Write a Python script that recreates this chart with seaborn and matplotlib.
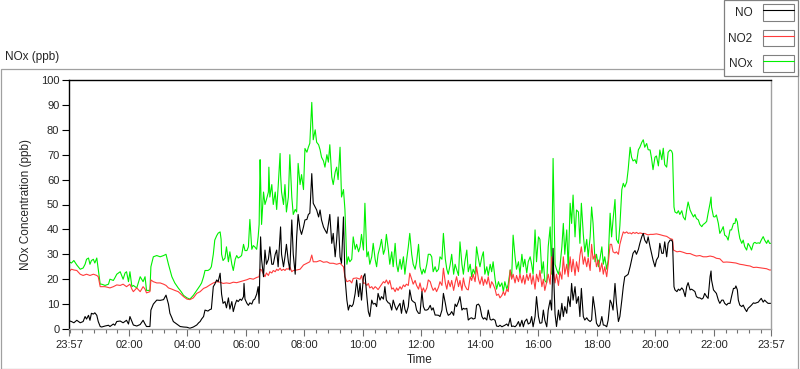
import pandas as pd
import matplotlib
matplotlib.use('Agg')
import matplotlib.pyplot as plt
import matplotlib.dates as mdates
from matplotlib.patches import Rectangle
from matplotlib.lines import Line2D
from matplotlib.legend_handler import HandlerTuple
import seaborn as sns

# readings: (minutes after 23:57, ppb)
nox_pts = [
    (0, 27), (5, 26.5), (10, 27.5), (16, 25.7), (23, 24), (29, 24.5), (33, 26), (36, 28), (40, 28.5),
    (43, 26), (46, 27.5), (50, 28), (53, 26.5), (57, 28.5), (60, 24), (64, 18), (67, 18), (74, 17.5),
    (81, 18), (84, 20), (91, 19.5), (94, 20.5), (98, 22), (105, 23), (111, 20), (115, 22.5), (118, 23),
    (122, 19), (125, 23), (129, 17), (132, 17.5), (139, 16.5), (146, 21), (152, 19), (156, 21), (159, 15.5),
    (166, 15.5), (168, 25), (173, 29), (180, 29.5), (187, 29), (194, 29.5), (199, 30), (204, 26),
    (211, 21), (217, 18.5), (224, 16.5), (230, 15), (235, 13.5), (242, 12.5), (248, 12), (255, 13.5),
    (262, 15.5), (269, 17.5), (272, 18.5), (276, 21), (279, 23.5), (285, 23.5), (289, 24), (292, 25),
    (296, 30), (299, 35.7), (303, 37.5), (306, 38.5), (310, 39), (312, 36), (313, 30), (316, 27.5),
    (320, 28.5), (323, 33), (327, 27), (330, 31), (334, 26), (337, 23.5), (341, 28), (344, 29.5),
    (347, 28.5), (351, 29), (354, 29.5), (358, 34), (361, 31.5), (365, 31.5), (368, 33), (371, 44),
    (375, 32), (378, 33.5), (381, 33), (385, 32), (388, 37), (390, 42), (392, 68), (393, 60), (395, 42),
    (399, 55), (402, 50), (405, 52), (409, 55), (410, 65), (412, 53), (416, 58), (419, 50), (423, 55),
    (426, 48), (429, 57), (433, 70.5), (434, 62), (436, 55), (440, 50), (443, 58), (446, 47), (450, 53),
    (453, 70), (457, 53), (460, 46), (464, 48), (467, 47), (470, 66.5), (474, 58), (477, 62), (481, 56),
    (484, 72.5), (488, 71), (491, 73), (494, 74.6), (498, 91), (501, 76), (505, 80), (508, 75), (512, 74),
    (515, 72), (518, 69), (522, 67.5), (525, 65), (529, 70), (532, 67), (535, 74), (539, 61), (542, 58),
    (546, 63), (549, 65), (552, 60), (556, 73), (559, 53), (563, 56), (566, 48), (570, 26), (573, 29),
    (576, 27), (580, 28), (583, 37), (587, 32), (590, 34), (594, 31), (597, 33), (600, 38), (604, 31.7),
    (607, 50.5), (611, 29), (614, 31), (617, 26), (621, 29), (624, 34.4), (628, 28), (631, 25), (634, 30),
    (638, 33), (641, 36), (645, 30), (648, 32), (651, 38), (655, 32), (658, 26), (662, 31), (665, 25),
    (669, 34.4), (672, 26), (675, 23), (679, 28), (682, 24), (686, 29), (689, 22), (692, 27), (696, 33),
    (699, 38.4), (703, 30), (706, 26), (710, 24), (713, 27), (717, 34), (720, 25), (724, 22), (727, 24),
    (730, 22.5), (734, 26), (737, 30), (741, 30), (744, 29), (747, 23), (751, 25), (754, 23), (758, 24),
    (761, 29), (765, 28), (768, 38.4), (772, 28), (775, 24), (778, 22), (782, 26), (785, 30), (789, 22),
    (792, 26), (795, 24), (799, 21.5), (802, 35), (806, 26), (809, 22), (812, 27), (816, 31.7), (819, 23),
    (823, 26), (826, 21), (829, 24), (833, 22), (836, 33), (840, 28), (843, 25), (847, 29), (850, 31),
    (853, 22), (857, 25), (860, 21.5), (864, 26), (867, 23), (870, 27), (874, 20), (877, 16), (881, 19),
    (884, 17), (888, 18.5), (891, 15), (894, 19), (898, 16), (901, 18), (905, 23.7), (908, 20.5),
    (911, 37.7), (915, 29), (918, 24), (922, 27), (925, 22), (929, 30), (932, 25), (935, 28), (939, 22.5),
    (942, 27), (946, 29), (949, 26), (952, 22), (956, 39.8), (959, 27), (963, 37), (966, 36), (970, 22.4),
    (973, 27), (976, 19.5), (980, 18.5), (983, 33), (987, 41), (990, 22), (993, 68.5), (997, 26),
    (1000, 24), (1004, 22), (1007, 25), (1011, 33), (1014, 42.4), (1017, 30), (1021, 39.8), (1024, 23.7),
    (1028, 50.5), (1031, 42.4), (1034, 53.8), (1038, 37), (1041, 47.8), (1045, 47), (1048, 34.4),
    (1051, 50.5), (1055, 38), (1058, 31), (1062, 36), (1065, 29), (1069, 37), (1072, 49), (1075, 42.4),
    (1079, 27), (1082, 30), (1086, 25), (1089, 28), (1093, 33), (1096, 26), (1099, 29), (1103, 24),
    (1106, 27.7), (1110, 46.5), (1113, 37), (1116, 43.8), (1120, 52), (1123, 36), (1127, 34.4),
    (1130, 41.5), (1134, 56), (1137, 58.5), (1140, 57), (1144, 59), (1147, 64), (1151, 73), (1154, 69),
    (1157, 67.5), (1161, 68), (1164, 66.5), (1168, 72), (1171, 73), (1175, 75), (1178, 76), (1181, 73),
    (1185, 74.5), (1188, 72), (1192, 71.9), (1195, 68.5), (1198, 64), (1202, 69), (1205, 69.5),
    (1209, 65.5), (1212, 71.9), (1216, 68), (1219, 72.6), (1222, 66), (1226, 65), (1229, 71), (1233, 71.9),
    (1236, 71.5), (1238, 70.5), (1240, 55.8), (1241, 49), (1243, 47), (1247, 46.5), (1250, 47.5),
    (1253, 46), (1257, 47.5), (1260, 45), (1264, 43.8), (1267, 47.8), (1270, 51), (1274, 47.8),
    (1277, 46.5), (1281, 45), (1284, 46), (1287, 44.4), (1291, 43.8), (1294, 42), (1298, 41.1),
    (1301, 42), (1304, 42.4), (1308, 43.2), (1311, 46.5), (1315, 50.5), (1317, 53), (1318, 49),
    (1322, 45.1), (1325, 45), (1328, 45.8), (1332, 42.4), (1335, 38.4), (1339, 39.8), (1342, 41.1),
    (1345, 37.7), (1349, 37.1), (1352, 35.7), (1356, 39.8), (1359, 39.8), (1363, 42.4), (1366, 42.4),
    (1368, 44.4), (1371, 43), (1373, 39.8), (1376, 36.4), (1380, 34.4), (1383, 35.7), (1386, 33.1),
    (1390, 31.7), (1393, 34.4), (1397, 33.1), (1400, 31.7), (1404, 34.4), (1407, 34.8), (1410, 34.4),
    (1414, 34.6), (1417, 34.4), (1420, 35.7), (1424, 37.1), (1427, 35.7), (1431, 34.4), (1434, 35.7),
    (1437, 34.4), (1440, 34.4),
]

no2_pts = [
    (0, 23), (5, 24), (10, 23.7), (16, 23.5), (23, 22), (29, 21.5), (36, 22), (43, 21.5), (50, 22),
    (57, 21.5), (60, 21), (64, 17), (74, 17), (84, 16.5), (91, 17), (98, 17.7), (105, 17.5), (111, 18),
    (118, 17), (125, 18), (129, 16), (132, 15), (139, 16.5), (146, 15), (152, 17), (156, 16), (159, 14.5),
    (166, 15), (168, 19.7), (173, 19), (180, 18.5), (187, 18.5), (194, 18), (199, 17.5), (204, 16.5),
    (211, 16), (217, 15.5), (224, 15), (228, 14.3), (235, 13), (242, 12), (248, 11.8), (255, 12.5),
    (262, 14.3), (269, 15), (276, 16.3), (282, 16.8), (289, 17.7), (296, 18.5), (303, 19), (310, 18.8),
    (316, 18.3), (323, 18.5), (330, 18.3), (337, 18.8), (344, 18.6), (351, 19), (358, 19.4), (365, 19.8),
    (371, 20.3), (378, 20), (385, 20.7), (390, 21), (392, 24), (395, 23.7), (399, 22), (402, 21),
    (405, 22.5), (409, 21.5), (412, 23), (416, 22.5), (419, 23.5), (423, 23), (426, 24), (429, 23.5),
    (433, 24.4), (436, 23.5), (440, 24), (443, 23.5), (446, 24.2), (450, 24), (453, 25), (457, 23),
    (460, 23.5), (467, 23.7), (474, 24), (481, 25.7), (488, 26.4), (494, 27), (498, 29.7), (501, 27),
    (508, 27), (515, 27.5), (522, 26.8), (529, 27), (535, 26.4), (542, 26.4), (549, 26), (556, 26.4),
    (563, 25), (566, 21), (570, 19), (576, 19.5), (580, 18.5), (583, 20.3), (590, 20.5), (597, 20),
    (600, 21.5), (604, 18.3), (607, 18.5), (611, 17.5), (614, 18.3), (617, 16.5), (621, 17), (624, 16),
    (628, 17), (631, 16.5), (634, 15.8), (638, 17), (645, 19), (648, 18.5), (651, 19.7), (655, 18),
    (658, 19.5), (662, 16), (665, 16.5), (669, 15), (672, 16.5), (675, 15.5), (679, 17), (682, 16),
    (686, 17.7), (689, 17), (692, 18), (696, 17.5), (699, 22.4), (703, 20), (706, 18), (710, 19.5),
    (713, 17.5), (717, 16), (720, 18.5), (724, 15), (727, 16.5), (730, 14.8), (734, 16.5), (737, 19.7),
    (741, 19), (744, 17), (747, 15.5), (751, 16.5), (754, 15), (758, 16.8), (761, 19), (765, 17.5),
    (768, 24.4), (772, 18.5), (775, 16), (778, 19.5), (782, 17), (785, 19.5), (789, 15.5), (792, 18.5),
    (795, 21), (799, 17), (802, 19.5), (806, 15.5), (809, 20.5), (812, 17.5), (816, 16), (819, 15.7),
    (823, 21), (826, 19.5), (829, 22), (833, 19), (836, 25), (840, 20), (843, 18), (847, 21), (850, 17.5),
    (853, 20), (857, 18), (860, 21), (864, 16.5), (867, 19), (870, 18), (874, 16), (877, 13.5), (881, 14),
    (884, 12.5), (888, 13.5), (891, 15), (894, 13.5), (898, 16), (901, 15), (905, 23.7), (908, 20),
    (911, 22), (915, 18.5), (918, 21.5), (922, 19), (925, 22), (929, 18.5), (932, 21.5), (935, 18),
    (939, 22), (942, 19.5), (946, 22.4), (949, 18), (952, 21.5), (956, 16), (959, 22), (963, 19),
    (966, 23.5), (970, 17), (973, 20), (976, 15.5), (980, 19), (983, 22), (987, 18), (990, 29), (993, 25),
    (997, 18.5), (1000, 22), (1004, 17.5), (1007, 23), (1011, 20), (1014, 29), (1017, 22), (1021, 26),
    (1024, 21), (1028, 29), (1031, 23), (1034, 28), (1038, 21.5), (1041, 27), (1045, 23), (1048, 29.5),
    (1051, 33), (1055, 26), (1058, 29), (1062, 25), (1065, 28.5), (1069, 23.5), (1072, 34), (1075, 28),
    (1079, 30), (1082, 25), (1086, 27.7), (1089, 23), (1093, 26.5), (1096, 22), (1099, 25), (1103, 21),
    (1106, 26), (1110, 34), (1113, 34), (1116, 31), (1120, 30.5), (1123, 31), (1127, 30), (1130, 34),
    (1134, 37), (1137, 39), (1140, 38.5), (1144, 39), (1147, 38.4), (1151, 38.6), (1154, 38.2),
    (1157, 38.8), (1161, 38.4), (1164, 38.8), (1168, 38.3), (1171, 38.6), (1175, 38.4), (1178, 38.2),
    (1181, 38.4), (1185, 38), (1188, 37.8), (1192, 38), (1198, 38), (1205, 38.2), (1212, 37.9),
    (1219, 37.5), (1226, 37.2), (1233, 36.3), (1238, 36), (1240, 31.7), (1247, 31), (1253, 31.2),
    (1260, 30.8), (1267, 30.3), (1274, 30.3), (1281, 29.7), (1287, 29.3), (1294, 29.5), (1301, 29),
    (1308, 29), (1315, 29.3), (1322, 29), (1328, 28.4), (1335, 28.2), (1342, 26.8), (1349, 26.9),
    (1356, 26.8), (1363, 26.6), (1368, 26.5), (1376, 26), (1383, 25.8), (1390, 25.5), (1397, 25.3),
    (1404, 24.7), (1410, 24.8), (1417, 24.6), (1424, 24.4), (1431, 24.2), (1437, 23.7), (1440, 23.7),
]

no_pts = [
    (0, 3.3), (5, 3), (10, 2.5), (16, 3.5), (23, 2.5), (29, 3), (33, 5), (36, 4), (40, 5.5), (43, 3.5),
    (46, 6.3), (50, 6), (53, 6.5), (57, 5.5), (60, 3), (64, 1), (67, 0.8), (74, 1.2), (81, 1.5), (84, 1),
    (91, 2), (94, 1.5), (98, 3), (105, 3.2), (111, 2.5), (118, 3.5), (122, 2), (125, 5), (129, 3),
    (132, 1.6), (139, 1.2), (146, 1.8), (152, 3.5), (156, 2), (159, 1), (166, 1), (168, 7.6), (173, 10),
    (180, 11.6), (187, 11.5), (194, 11.8), (199, 13.6), (204, 10), (207, 6.3), (211, 4.5), (214, 3),
    (221, 2), (228, 1), (235, 0.8), (242, 0.7), (248, 0.3), (255, 0.8), (262, 1.6), (266, 2.5), (269, 3),
    (272, 4), (276, 5), (279, 7.6), (285, 7.2), (289, 7.8), (292, 8), (296, 17), (299, 18), (303, 19.7),
    (306, 19), (310, 22.4), (313, 14), (316, 10.3), (320, 11), (323, 8.5), (327, 12.5), (330, 8),
    (334, 11), (337, 7), (341, 10), (344, 11.6), (347, 11), (351, 12), (354, 11.5), (358, 13), (359, 18.3),
    (361, 12), (365, 10.3), (368, 9.5), (371, 10.5), (375, 10), (378, 11.6), (381, 12), (385, 14),
    (388, 17), (390, 10.3), (393, 37), (395, 28), (399, 21), (402, 31.7), (405, 26), (409, 28), (412, 33),
    (416, 26), (419, 26), (423, 30), (426, 31.7), (429, 25), (434, 41), (436, 30), (440, 25), (443, 29),
    (446, 34), (450, 27), (453, 23.7), (457, 43.8), (460, 30), (464, 22), (467, 37), (470, 46), (474, 40),
    (477, 38), (481, 41), (484, 43.8), (488, 44), (491, 46), (494, 46.5), (498, 62.4), (501, 50.5),
    (505, 49), (508, 47.8), (512, 45), (515, 47.8), (518, 43.8), (522, 41), (525, 39.8), (529, 38.4),
    (532, 42), (535, 46), (539, 34.4), (542, 38.4), (546, 29), (549, 35.7), (552, 45), (556, 29),
    (559, 26.4), (563, 45), (566, 21), (570, 11.6), (573, 7.6), (576, 9.6), (580, 9), (583, 10),
    (587, 14.3), (590, 19.7), (594, 13), (597, 18.3), (600, 11.6), (604, 21), (607, 22.2), (611, 13),
    (614, 7), (617, 5), (621, 11.6), (624, 10), (628, 10.3), (631, 9), (634, 14.3), (638, 11.6), (641, 13),
    (645, 12), (648, 17), (651, 11.6), (655, 10.5), (658, 10.3), (662, 7.6), (665, 11.6), (669, 9),
    (672, 7.6), (675, 9), (679, 10.3), (682, 6.3), (686, 11.6), (689, 8), (692, 6.3), (696, 9),
    (699, 15.7), (703, 11.6), (706, 11), (710, 10.5), (713, 7.6), (717, 6.3), (720, 6.3), (724, 15),
    (727, 9), (730, 7.6), (734, 7.6), (737, 8), (741, 9.5), (744, 7.6), (747, 8.5), (751, 5.6), (754, 5.6),
    (758, 5.5), (761, 5), (765, 7.6), (768, 14.3), (772, 10.3), (775, 7), (778, 5.5), (782, 6), (785, 7),
    (789, 5.5), (792, 10), (795, 9), (799, 11), (802, 13), (806, 7.6), (809, 8.3), (812, 8), (816, 8.3),
    (819, 3.6), (823, 4.3), (826, 4.5), (829, 4), (833, 4.3), (836, 9.6), (840, 10), (843, 9), (847, 5),
    (850, 4), (853, 4.5), (857, 3.6), (860, 7.6), (864, 3.8), (867, 3.6), (870, 4), (874, 3.5), (877, 1.2),
    (881, 1), (884, 1.5), (888, 0.9), (891, 1.2), (894, 1.5), (898, 2), (901, 1.2), (905, 4.3), (908, 1),
    (911, 1.2), (915, 0.9), (918, 1.5), (922, 3), (925, 1), (929, 3.5), (932, 0.9), (935, 3), (939, 4),
    (942, 2), (946, 2.5), (949, 5), (952, 0.9), (956, 5), (959, 13), (963, 5), (966, 2.3), (970, 2.5),
    (973, 7.6), (976, 3.6), (980, 0.9), (983, 7.6), (987, 11.6), (990, 7.6), (992, 22.4), (993, 32.4),
    (995, 17), (997, 6), (1000, 1), (1004, 7.6), (1007, 3.6), (1011, 10.3), (1014, 5), (1017, 9),
    (1021, 6.3), (1024, 13), (1028, 9), (1031, 18.3), (1034, 11.6), (1038, 17), (1041, 10.3), (1045, 13),
    (1048, 5), (1051, 16.3), (1055, 5), (1058, 3.6), (1062, 4.5), (1065, 3.6), (1069, 3), (1072, 3.6),
    (1075, 13), (1079, 7.6), (1082, 2.3), (1086, 1), (1089, 1.5), (1093, 5), (1096, 1.6), (1099, 1.5),
    (1103, 0.9), (1106, 3.6), (1110, 11.6), (1113, 10.3), (1116, 7.6), (1120, 18.3), (1123, 10.3),
    (1127, 3), (1130, 5), (1134, 11.6), (1137, 17), (1140, 21), (1144, 21.5), (1147, 22), (1151, 25),
    (1154, 27.7), (1157, 30.4), (1161, 31.5), (1164, 30), (1168, 32), (1171, 34.4), (1175, 37.1),
    (1178, 38.4), (1181, 35.7), (1185, 34.4), (1188, 37), (1192, 33), (1195, 30.4), (1198, 27.7),
    (1202, 25), (1205, 27.7), (1209, 29), (1212, 34.4), (1216, 30.4), (1219, 30.4), (1222, 35), (1226, 29),
    (1229, 34.4), (1233, 35.7), (1236, 35.7), (1238, 35), (1240, 23.7), (1241, 17), (1243, 15.7),
    (1247, 15), (1250, 16), (1253, 15.5), (1257, 16.5), (1260, 15.7), (1264, 13), (1267, 17), (1270, 18.6),
    (1274, 15.7), (1277, 16), (1281, 15.5), (1284, 15), (1287, 13), (1291, 12.5), (1294, 12.5), (1298, 12),
    (1301, 12.5), (1304, 14.3), (1308, 13), (1311, 12.3), (1315, 21), (1317, 23.3), (1318, 19.7),
    (1322, 15.7), (1325, 15), (1328, 14.3), (1332, 11.6), (1335, 10.3), (1339, 11.6), (1342, 11.6),
    (1345, 10.3), (1349, 9.6), (1352, 10.3), (1356, 10.3), (1359, 13), (1363, 16.3), (1366, 16.3),
    (1368, 17.3), (1371, 15.7), (1373, 11.6), (1376, 9.6), (1380, 9), (1383, 9.6), (1386, 8.3), (1390, 7),
    (1393, 8.3), (1397, 9), (1400, 9.6), (1404, 10.5), (1407, 10.3), (1410, 10.5), (1414, 10.8),
    (1417, 11.6), (1420, 12.3), (1424, 10.8), (1427, 11.6), (1431, 10.8), (1434, 10.3), (1437, 10.3),
    (1440, 10.3),
]

start = pd.Timestamp('2015-03-10 23:57')
gases = ['NO', 'NO2', 'NOx']
colors = {'NO': 'black', 'NO2': '#ff3b3b', 'NOx': '#00f000'}
hour_ticks = ['02:00', '04:00', '06:00', '08:00', '10:00', '12:00', '14:00', '16:00', '18:00',
              '20:00', '22:00']

frames = []
for gas, pts in [('NOx', nox_pts), ('NO2', no2_pts), ('NO', no_pts)]:
    mins, vals = zip(*pts)
    frames.append(pd.DataFrame({'time': start + pd.to_timedelta(list(mins), unit='min'),
                                'ppb': vals, 'gas': gas}))
df = pd.concat(frames, ignore_index=True)

sns.set_style('white')
plt.rcParams['font.family'] = ['Liberation Sans', 'DejaVu Sans']

fig = plt.figure(figsize=(8, 3.69), dpi=100)
ax = fig.add_axes([69 / 800, 1 - 329 / 369, 702 / 800, 249 / 369])

sns.lineplot(data=df, x='time', y='ppb', hue='gas', hue_order=['NOx', 'NO2', 'NO'],
             palette=colors, estimator=None, linewidth=0.8, legend=False, ax=ax)

end = start + pd.Timedelta(days=1)
next_day = (start + pd.Timedelta(days=1)).strftime('%Y-%m-%d')
major = [start] + [pd.Timestamp(next_day[:8] + '11 ' + h) for h in hour_ticks] + [end]
minor = pd.date_range('2015-03-11 00:00', '2015-03-11 23:50', freq='24min')
ax.set_xlim(start, end)
ax.set_xticks(mdates.date2num(major))
ax.set_xticks(mdates.date2num(minor), minor=True)
ax.xaxis.set_major_formatter(mdates.DateFormatter('%H:%M'))
ax.set_ylim(0, 100)
ax.set_yticks(range(0, 101, 10))

ax.tick_params(axis='x', which='major', direction='out', length=5, width=0.8, color='#707070',
               pad=3, labelsize=8, bottom=True)
ax.tick_params(axis='x', which='minor', direction='out', length=3, width=0.8, color='#707070',
               bottom=True)
ax.tick_params(axis='y', direction='out', length=5, width=0.8, color='black', pad=2,
               labelsize=8, left=True)

for side in ['top', 'left']:
    ax.spines[side].set_color('black')
    ax.spines[side].set_linewidth(1.0)
for side in ['bottom', 'right']:
    ax.spines[side].set_color('#a0a0a0')
    ax.spines[side].set_linewidth(1.0)

ax.set_xlabel('Time', fontsize=8.5, labelpad=3)
ax.set_ylabel('NOx Concentration (ppb)', fontsize=8.5, labelpad=6)

fig.text(5 / 800, 1 - 57 / 369, 'NOx (ppb)', fontsize=8.5, va='center', ha='left')

# outer panel frame
fig.patches.append(Rectangle((0.5 / 800, 0.5 / 369), 797 / 800, 1 - 69.5 / 369,
                             transform=fig.transFigure, fill=False, edgecolor='#a0a0a0',
                             linewidth=0.9, zorder=0))

handles = []
for gas in gases:
    box = Rectangle((0, 0), 1, 1, facecolor='white', edgecolor='#808080', linewidth=0.8)
    line = Line2D([], [], color=colors[gas], linewidth=0.8)
    handles.append((box, line))
leg = fig.legend(handles, gases, handler_map={tuple: HandlerTuple(ndivide=1)},
                 loc='upper right', bbox_to_anchor=(798 / 800, 1.0), markerfirst=False,
                 fontsize=8.5, frameon=True, fancybox=False, framealpha=1, edgecolor='#808080',
                 handlelength=2.6, handleheight=1.8, labelspacing=0.75, handletextpad=0.9,
                 borderpad=0.35, borderaxespad=0)
leg.get_frame().set_linewidth(0.9)

fig.savefig('out.png', dpi=100)
